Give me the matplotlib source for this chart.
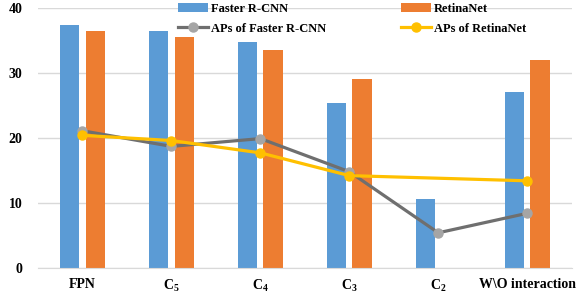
import numpy as np
import matplotlib.pyplot as plt

plt.rcParams['font.family'] = 'Liberation Serif'
plt.rcParams['font.weight'] = 'bold'
plt.rcParams['mathtext.fontset'] = 'custom'
plt.rcParams['mathtext.rm'] = 'Liberation Serif:bold'
plt.rcParams['mathtext.bf'] = 'Liberation Serif:bold'

categories = ['FPN', r'$\mathbf{C_5}$', r'$\mathbf{C_4}$', r'$\mathbf{C_3}$', r'$\mathbf{C_2}$', 'W\\O interaction']
faster_rcnn = [37.4, 36.5, 34.8, 25.4, 10.6, 27.0]
retinanet = [36.5, 35.5, 33.6, 29.0, np.nan, 32.0]
aps_faster = [21.1, 18.7, 19.9, 14.8, 5.4, 8.4]
aps_retina = [20.4, 19.6, 17.7, 14.2, np.nan, 13.4]

x = np.arange(len(categories))
w = 0.22
off = 0.145

fig = plt.figure(figsize=(5.84, 2.96), dpi=100)
ax = fig.add_axes([0.065, 0.095, 0.914, 0.878])

b1 = ax.bar(x - off, faster_rcnn, w, color='#5B9BD5', label='Faster R-CNN', zorder=2)
b2 = ax.bar(x + off, retinanet, w, color='#ED7D31', label='RetinaNet', zorder=2)

ar = np.array(aps_retina)
ok = ~np.isnan(ar)
l1, = ax.plot(x, aps_faster, color='#6F6F6F', lw=2.3, marker='o', ms=6.5,
              mfc='#A5A5A5', mec='#A5A5A5', label='APs of Faster R-CNN', zorder=3)
l2, = ax.plot(x[ok], ar[ok], color='#FFC000', lw=2.3, marker='o', ms=6.5,
              mfc='#FFC000', mec='#FFC000', label='APs of RetinaNet', zorder=4)

ax.set_xlim(-0.5, len(categories) - 0.5)
ax.set_ylim(0, 40)
ax.set_yticks([0, 10, 20, 30, 40])
ax.set_xticks(x)
ax.set_xticklabels(categories)
ax.tick_params(length=0, labelsize=10, pad=7)
ax.tick_params(axis='y', pad=11)
ax.grid(axis='y', color='#D9D9D9', lw=1, zorder=0)
for s in ['top', 'right', 'left']:
    ax.spines[s].set_visible(False)
ax.spines['bottom'].set_color('#D9D9D9')

handles = [b1, l1, b2, l2]
ax.legend(handles, [h.get_label() for h in handles], ncol=2,
          loc='upper left', bbox_to_anchor=(0.242, 1.062), frameon=False,
          fontsize=9, handlelength=2.4, columnspacing=6.0, labelspacing=0.6,
          handletextpad=0.2)

fig.savefig('out.png')
